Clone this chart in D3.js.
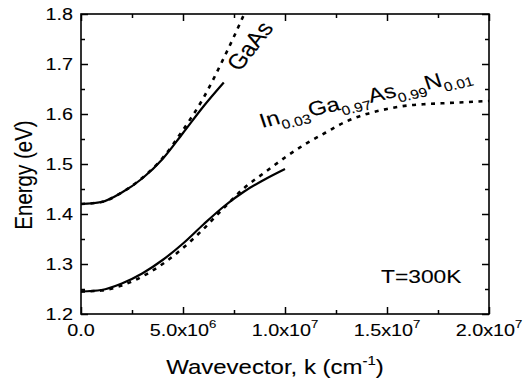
<!DOCTYPE html>
<html>
<head>
<meta charset="utf-8">
<script src="https://cdn.jsdelivr.net/npm/d3@7"></script>
<style>
  body { margin: 0; background: #fff; }
  text { font-family: "Liberation Sans", Arial, sans-serif; fill: #000; stroke: #000; stroke-width: 0.1px; }
</style>
</head>
<body>
<script>
// data (k in cm^-1, energy in eV)
var gaasK      = [0, 1e6, 2e6, 3e6, 4e6, 5e6, 6e6, 7e6]
var gaasSolid  = [1.420, 1.424, 1.443, 1.471, 1.510, 1.562, 1.615, 1.663]
var gaasDashK  = [0, 1e6, 2e6, 3e6, 4e6, 5e6, 6e6, 7e6, 7.5e6, 8e6]
var gaasDash   = [1.420, 1.424, 1.443, 1.472, 1.512, 1.568, 1.632, 1.712, 1.755, 1.800]
var ingaK      = [0, 1e6, 2e6, 3e6, 4e6, 5e6, 6e6, 7e6, 8e6, 9e6, 1e7]
var ingaSolid  = [1.245, 1.248, 1.261, 1.281, 1.308, 1.341, 1.379, 1.415, 1.445, 1.469, 1.490]
var ingaDashK  = [0, 1e6, 2e6, 3e6, 4e6, 5e6, 6e6, 7e6, 8e6, 9e6, 1e7, 1.1e7, 1.2e7, 1.3e7, 1.4e7, 1.5e7, 1.6e7, 1.7e7, 1.8e7, 1.9e7, 2e7]
var ingaDash   = [1.245, 1.247, 1.257, 1.275, 1.300, 1.332, 1.370, 1.412, 1.452, 1.483, 1.513, 1.540, 1.563, 1.585, 1.600, 1.610, 1.617, 1.620, 1.622, 1.624, 1.626]

var xMajor = [0, 5e6, 1e7, 1.5e7, 2e7]
var xMajorLabels = [['0.0', ''], ['5.0x10', '6'], ['1.0x10', '7'], ['1.5x10', '7'], ['2.0x10', '7']]
var xMinor = [2.5e6, 7.5e6, 1.25e7, 1.75e7]
var yMajor = [1.2, 1.3, 1.4, 1.5, 1.6, 1.7, 1.8]
var yMinor = [1.25, 1.35, 1.45, 1.55, 1.65, 1.75]

var W = 524, H = 384
var m = {left: 81, right: 35, top: 14, bottom: 70}
var sx = 1.2  // picture looks stretched sideways

var svg = d3.select('body').append('svg')
  .attr('width', W)
  .attr('height', H)

var x = d3.scaleLinear().domain([0, 2e7]).range([m.left, W - m.right])
var y = d3.scaleLinear().domain([1.2, 1.8]).range([H - m.bottom, m.top])

// ticks on all four sides, pointing in
function ticks(axis, vals, size, tr) {
  svg.append('g')
    .attr('transform', tr)
    .call(axis.tickValues(vals).tickSize(size).tickFormat(''))
    .call(g => g.select('.domain').remove())
    .selectAll('line').attr('stroke', '#000').attr('stroke-width', 1.5)
}
var bottom = H - m.bottom, right = W - m.right
ticks(d3.axisBottom(x), xMajor, -7, `translate(0,${bottom})`)
ticks(d3.axisBottom(x), xMinor, -4, `translate(0,${bottom})`)
ticks(d3.axisTop(x), xMajor, -7, `translate(0,${m.top})`)
ticks(d3.axisTop(x), xMinor, -4, `translate(0,${m.top})`)
ticks(d3.axisLeft(y), yMajor, -7, `translate(${m.left},0)`)
ticks(d3.axisLeft(y), yMinor, -4, `translate(${m.left},0)`)
ticks(d3.axisRight(y), yMajor, -7, `translate(${right},0)`)
ticks(d3.axisRight(y), yMinor, -4, `translate(${right},0)`)

svg.append('rect')
  .attr('x', m.left).attr('y', m.top)
  .attr('width', right - m.left).attr('height', bottom - m.top)
  .attr('fill', 'none').attr('stroke', '#000').attr('stroke-width', 1.6)

// tick labels
svg.selectAll('.ylab').data(yMajor).enter().append('text')
  .attr('transform', d => `translate(73,${y(d) + 6}) scale(${sx},1)`)
  .attr('text-anchor', 'end')
  .style('font-size', '16.5px')
  .text(d => d.toFixed(1))

var xl = svg.selectAll('.xlab').data(xMajor).enter().append('text')
  .attr('transform', d => `translate(${x(d)},336) scale(${sx},1)`)
  .attr('text-anchor', 'middle')
  .style('font-size', '16.5px')
xl.append('tspan').text((d, i) => xMajorLabels[i][0])
xl.append('tspan').attr('dy', -8).style('font-size', '11px').text((d, i) => xMajorLabels[i][1])

// axis titles
var xt = svg.append('text')
  .attr('transform', `translate(275,374) scale(${sx},1)`)
  .attr('text-anchor', 'middle')
  .style('font-size', '20px')
xt.append('tspan').text('Wavevector, k (cm')
xt.append('tspan').attr('dy', -9).style('font-size', '12.5px').text('-1')
xt.append('tspan').attr('dy', 9).text(')')

svg.append('text')
  .attr('transform', `translate(32,175) scale(${sx},1) rotate(-90)`)
  .attr('text-anchor', 'middle')
  .style('font-size', '20.5px')
  .text('Energy (eV)')

// curves
var line = d3.line().x(d => x(d[0])).y(d => y(d[1])).curve(d3.curveMonotoneX)
function curve(ks, es, dashed) {
  svg.append('path')
    .datum(d3.zip(ks, es))
    .attr('d', line)
    .attr('fill', 'none')
    .attr('stroke', '#000')
    .attr('stroke-width', dashed ? 2.6 : 2.2)
    .attr('stroke-dasharray', dashed ? '4,5.5' : null)
}
curve(gaasDashK, gaasDash, true)
curve(gaasK, gaasSolid, false)
curve(ingaDashK, ingaDash, true)
curve(ingaK, ingaSolid, false)

// annotations
svg.append('text')
  .attr('transform', `translate(240,72) scale(${sx},1) rotate(-57)`)
  .style('font-size', '21px')
  .text('GaAs')

var lab = svg.append('text')
  .attr('transform', `translate(262,128) scale(${sx},1) rotate(-15.5)`)
  .style('font-size', '20px')
var parts = [['In', '0.03'], ['Ga', '0.97'], ['As', '0.99'], ['N', '0.01']]
parts.forEach(function(p, i) {
  lab.append('tspan').attr('dy', i ? -6 : 0).text(p[0])
  lab.append('tspan').attr('dy', 6).style('font-size', '13px').text(p[1])
})

svg.append('text')
  .attr('transform', `translate(381,283) scale(${sx},1)`)
  .style('font-size', '19px')
  .text('T=300K')
</script>
</body>
</html>
